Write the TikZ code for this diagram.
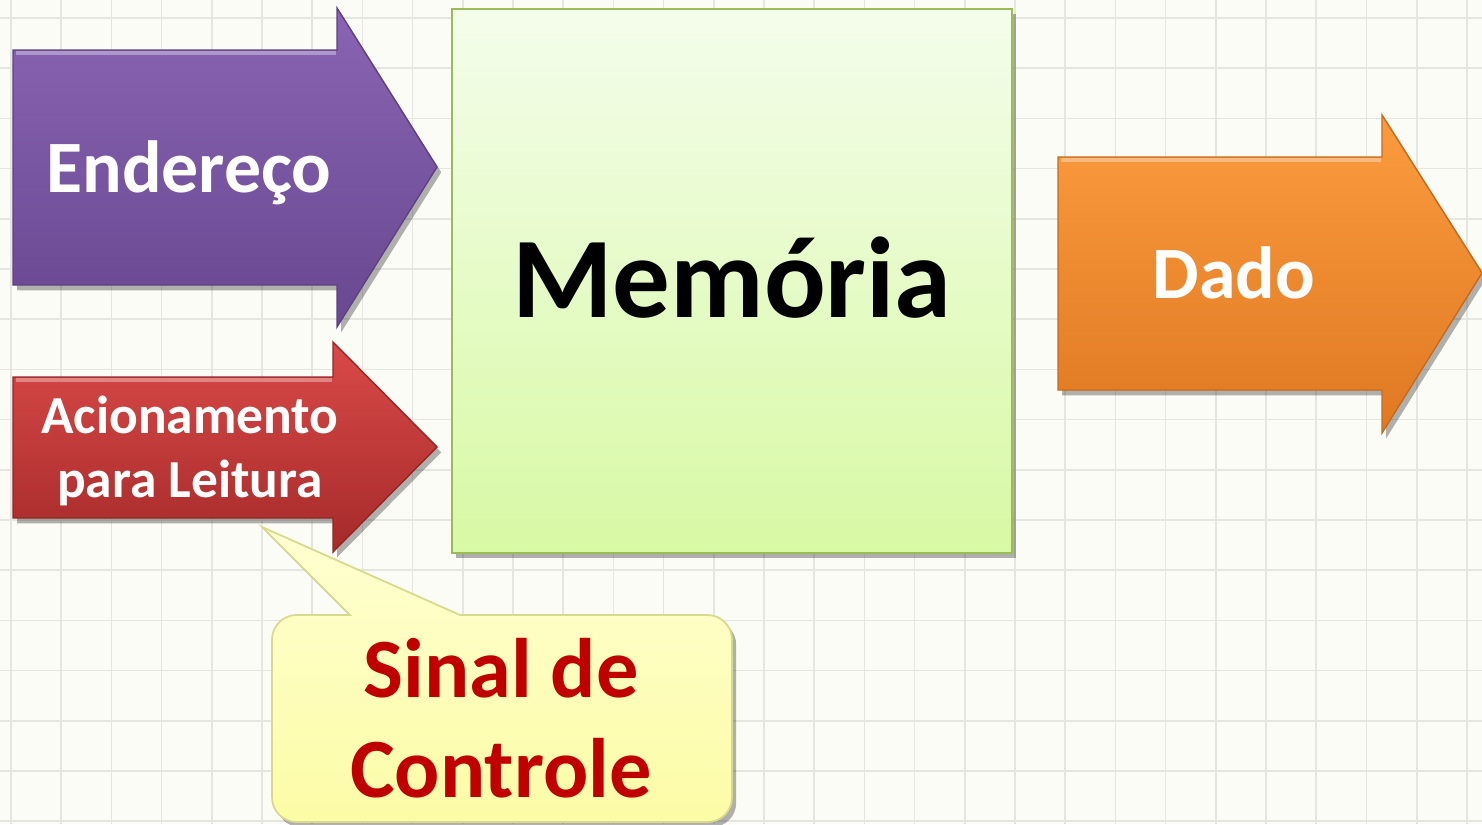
\documentclass[tikz,border=0pt]{standalone}
\usepackage{fontspec}
\setmainfont{Carlito}
\usetikzlibrary{shadows}
\definecolor{bg}{HTML}{FCFCF7}
\definecolor{gridc}{HTML}{E6E6E0}
\definecolor{purpT}{HTML}{8A64B3}
\definecolor{purpB}{HTML}{684890}
\definecolor{purpD}{HTML}{5E4184}
\definecolor{redT}{HTML}{D94A48}
\definecolor{redB}{HTML}{A52A2A}
\definecolor{redD}{HTML}{962424}
\definecolor{orT}{HTML}{FB9B3E}
\definecolor{orB}{HTML}{DF7922}
\definecolor{orD}{HTML}{C86A1C}
\definecolor{memT}{HTML}{F4FDEB}
\definecolor{memB}{HTML}{D8F9A4}
\definecolor{memD}{HTML}{9BBB59}
\definecolor{calT}{HTML}{FFFFD2}
\definecolor{calB}{HTML}{FCFCA6}
\definecolor{calD}{HTML}{D9D98E}
\definecolor{sigred}{HTML}{C00000}
\newcommand{\twoline}[3]{\vtop{\baselineskip=#3\relax\halign{\hfil##\hfil\cr#1\cr#2\cr}}}
\tikzset{
  gridline/.style={gridc, line width=0.5pt},
  shapeshadow/.style={drop shadow={shadow xshift=1.2pt, shadow yshift=-1.5pt, opacity=0.3, fill=black}},
  arrowbody/.style={shapeshadow, line width=0.4pt},
  whitetxt/.style={text=white, inner sep=0pt, anchor=base},
  memtxtstyle/.style={text=black, inner sep=0pt, anchor=base, font=\bfseries\fontsize{32.7}{38}\selectfont},
  sigtxt/.style={text=sigred, inner sep=0pt, anchor=base, font=\bfseries\fontsize{24}{29}\selectfont},
  highlight/.style={white, opacity=0.35, line width=1.2pt},
}
\begin{document}
\begin{tikzpicture}[x=0.01cm, y=-0.01cm]
\useasboundingbox (0,0) rectangle (1482,824);
\fill[bg] (0,0) rectangle (1482,824);
% grid
\foreach \i in {0,...,29} { \draw[gridline] ({11+50.2*\i},0) -- ({11+50.2*\i},824); }
\foreach \j in {0,...,16} { \draw[gridline] (0,{18+50.2*\j}) -- (1482,{18+50.2*\j}); }

% Endereco arrow
\path[arrowbody, top color=purpT, bottom color=purpB, draw=purpD]
  (13,50) -- (337,50) -- (337,8) -- (437,167) -- (337,327) -- (337,285) -- (13,285) -- cycle;
\draw[highlight] (16,53) -- (336,53);
\node[whitetxt, font=\bfseries\fontsize{21}{25}\selectfont] (endereco) at (189,192) {Endereço};

% Acionamento arrow
\path[arrowbody, top color=redT, bottom color=redB, draw=redD]
  (13,377) -- (333,377) -- (333,342) -- (437,447) -- (333,552) -- (333,518) -- (13,518) -- cycle;
\draw[highlight] (16,380) -- (332,380);
\node[whitetxt, font=\bfseries\fontsize{15.2}{18.2}\selectfont] (acion) at (190,433) {\twoline{Acionamento}{para Leitura}{18.2pt}};

% Dado arrow
\path[arrowbody, top color=orT, bottom color=orB, draw=orD]
  (1058,157) -- (1382,157) -- (1382,115) -- (1482,273) -- (1382,433) -- (1382,390) -- (1058,390) -- cycle;
\draw[highlight] (1061,160) -- (1381,160);
\node[whitetxt, font=\bfseries\fontsize{21}{25}\selectfont] (dado) at (1234,298) {Dado};

% Memoria box
\path[shapeshadow, top color=memT, bottom color=memB, draw=memD, line width=0.7pt]
  (452,9) rectangle (1012,553);
\node[memtxtstyle] (mem) at (732,317) {Memória};

% Callout
\path[shapeshadow, top color=calT, bottom color=calB, draw=calD, line width=0.5pt]
  (272,720) [rounded corners=7pt] -- (272,615) [sharp corners] -- (350,615) -- (262,527) -- (460,615)
  [rounded corners=7pt] -- (732,615) -- (732,822) -- (272,822) -- cycle;
\node[sigtxt] (sinal) at (501,697) {\twoline{Sinal de}{Controle}{28.7pt}};
\end{tikzpicture}
\end{document}
